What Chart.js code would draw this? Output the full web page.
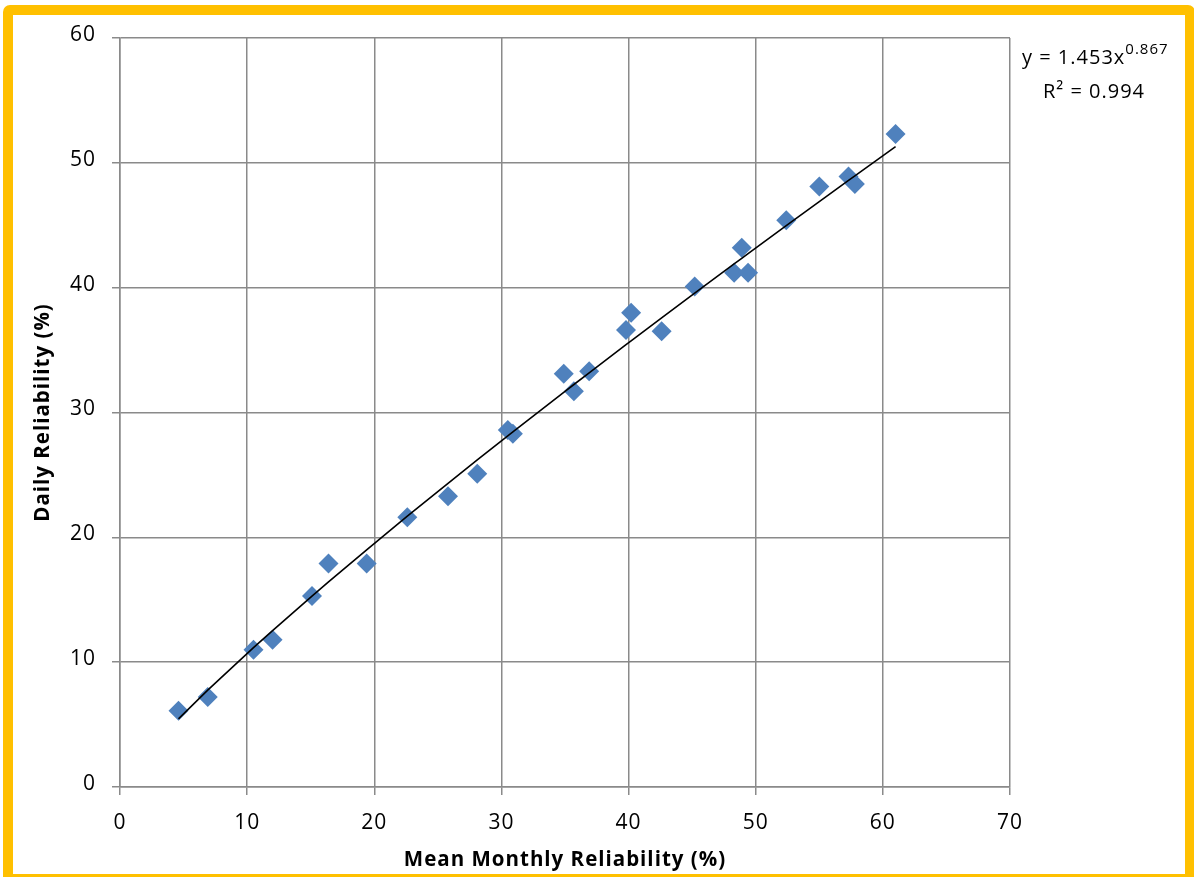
<!DOCTYPE html>
<html>
<head>
<meta charset="utf-8">
<script src="https://cdn.jsdelivr.net/npm/chart.js@4/dist/chart.umd.min.js"></script>
<style>
  html, body { margin: 0; padding: 0; overflow: hidden; background: #fff; }
  #wrap { position: relative; width: 1194px; height: 877px; }
  #frame {
    position: absolute; left: 3px; top: 5px; width: 1192px; height: 879px;
    box-sizing: border-box; border: 10px solid #FFC000; border-radius: 7px;
    pointer-events: none;
  }
  canvas { position: absolute; left: 0; top: 0; }
</style>
</head>
<body>
<div id="wrap">
  <canvas id="chart" width="1194" height="877"></canvas>
  <div id="frame"></div>
</div>
<script>
// Mean monthly reliability (%) vs daily reliability (%)
const monthly = [4.6, 6.9, 10.5, 12.0, 15.1, 16.4, 19.4, 22.6, 25.8, 28.1, 30.5, 30.9,
                 34.9, 35.7, 36.9, 39.8, 40.2, 42.6, 45.2, 48.3, 48.9, 49.4, 52.4, 55.0,
                 57.3, 57.8, 61.0];
const daily   = [6.1, 7.2, 11.0, 11.8, 15.3, 17.9, 17.9, 21.6, 23.3, 25.1, 28.6, 28.3,
                 33.1, 31.7, 33.3, 36.6, 38.0, 36.5, 40.1, 41.2, 43.2, 41.2, 45.4, 48.1,
                 48.9, 48.3, 52.3];

// Power trendline y = a * x^b
const trendA = 1.453;
const trendB = 0.867;
const trendR2 = 0.994;

const xTicks = [0, 10, 20, 30, 40, 50, 60, 70];
const yTicks = [0, 10, 20, 30, 40, 50, 60];

const points = monthly.map((x, i) => ({ x: x, y: daily[i] }));
const trendXs = monthly.slice().sort((a, b) => a - b);
const trend = trendXs.map(x => ({ x: x, y: trendA * Math.pow(x, trendB) }));

const FONT = '"Open Sans", Lato, sans-serif';
const GRID = '#8a8a8a';
const LETTER_SPACING = '1px';

// Slightly looser tracking for every piece of canvas text
const textTracking = {
  id: 'textTracking',
  beforeUpdate(chart) { chart.ctx.letterSpacing = LETTER_SPACING; },
  beforeDraw(chart) { chart.ctx.letterSpacing = LETTER_SPACING; }
};

const equationLabel = {
  id: 'equationLabel',
  afterDraw(chart) {
    const ctx = chart.ctx;
    ctx.save();
    ctx.letterSpacing = LETTER_SPACING;
    ctx.fillStyle = '#000';
    ctx.textBaseline = 'alphabetic';
    ctx.textAlign = 'left';
    const main = 'y = ' + trendA.toFixed(3) + 'x';
    const sup = trendB.toFixed(3);
    const x0 = 1022;
    ctx.font = '20px ' + FONT;
    const wMain = ctx.measureText(main).width;
    ctx.fillText(main, x0, 64);
    ctx.font = '15px ' + FONT;
    ctx.fillText(sup, x0 + wMain, 54);
    ctx.font = '20px ' + FONT;
    ctx.textAlign = 'center';
    ctx.fillText('R\u00B2 = ' + trendR2.toFixed(3), 1094, 98);
    ctx.restore();
  }
};

new Chart(document.getElementById('chart'), {
  type: 'scatter',
  data: {
    datasets: [
      {
        label: 'Power trendline',
        type: 'line',
        data: trend,
        borderColor: '#000',
        borderWidth: 1.6,
        pointRadius: 0,
        fill: false,
        tension: 0,
        order: 0
      },
      {
        label: 'Reliability',
        data: points,
        pointStyle: 'rectRot',
        pointRadius: 10,
        pointHoverRadius: 10,
        backgroundColor: '#4F81BD',
        borderColor: '#4F81BD',
        borderWidth: 0,
        order: 1
      }
    ]
  },
  options: {
    responsive: false,
    animation: false,
    events: [],
    layout: { padding: { left: 0, top: 38, right: 184, bottom: 0 } },
    plugins: { legend: { display: false }, tooltip: { enabled: false } },
    scales: {
      x: {
        type: 'linear',
        min: xTicks[0],
        max: xTicks[xTicks.length - 1],
        afterBuildTicks(scale) { scale.ticks = xTicks.map(v => ({ value: v })); },
        afterFit(scale) { scale.height = 90; },
        grid: { color: GRID, lineWidth: 1.5, tickLength: 8, drawTicks: true },
        border: { color: GRID, width: 1.5 },
        ticks: { color: '#000', font: { family: FONT, size: 21 }, padding: 15 },
        title: {
          display: true,
          text: 'Mean Monthly Reliability (%)',
          color: '#000',
          font: { family: FONT, size: 20.5, weight: 'bold' },
          padding: { top: 0, bottom: 5 }
        }
      },
      y: {
        type: 'linear',
        min: yTicks[0],
        max: yTicks[yTicks.length - 1],
        afterBuildTicks(scale) { scale.ticks = yTicks.map(v => ({ value: v })); },
        afterFit(scale) { scale.width = 120; },
        grid: { color: GRID, lineWidth: 1.5, tickLength: 8, drawTicks: true },
        border: { color: GRID, width: 1.5 },
        ticks: { color: '#000', font: { family: FONT, size: 21 }, padding: 16, labelOffset: -3 },
        title: {
          display: true,
          text: 'Daily Reliability (%)',
          color: '#000',
          font: { family: FONT, size: 20.5, weight: 'bold' },
          padding: { top: 31, bottom: 0 }
        }
      }
    }
  },
  plugins: [textTracking, equationLabel]
});
</script>
</body>
</html>
